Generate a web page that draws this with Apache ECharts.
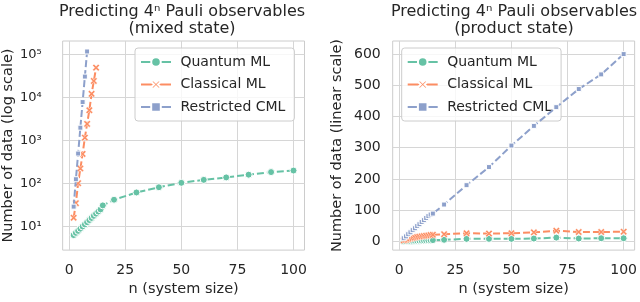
<!DOCTYPE html>
<html>
<head>
<meta charset="utf-8">
<script src="https://cdn.jsdelivr.net/npm/echarts@6/dist/echarts.min.js"></script>
<style>
html,body{margin:0;padding:0;background:#fff;}
#chart{width:640px;height:302px;}
</style>
</head>
<body>
<div id="chart"></div>
<script>
// ---------- data ----------
var seriesNames = ['Quantum ML', 'Classical ML', 'Restricted CML'];
var xTicks = [0, 25, 50, 75, 100];
var logTickValues = [10, 100, 1000, 10000, 100000];
var logTickLabels = ['10\u00b9', '10\u00b2', '10\u00b3', '10\u2074', '10\u2075'];
var linTicks = [0, 100, 200, 300, 400, 500, 600];

// Left panel (mixed state, log scale)
var mixQuantumN = [2,3,4,5,6,7,8,9,10,11,12,13,14,15,20,30,40,50,60,70,80,90,100];
var mixQuantumY = [6.3,7.1,7.9,8.9,10.0,11.2,12.6,14.1,15.8,17.7,19.9,22.3,25,31,42,62,82,104,122,139,161,185,201];
var mixClassicalN = [2,3,4,5,6,7,8,9,10,11,12];
var mixClassicalY = [16,35,102,224,490,1170,2450,5100,12300,24500,50000];
var mixRestrictedN = [2,3,4,5,6,7,8];
var mixRestrictedY = [29,126,500,2000,7900,31000,119000];

// Right panel (product state, linear scale)
var prodN = [2,3,4,5,6,7,8,9,10,11,12,13,14,15,20,30,40,50,60,70,80,90,100];
var prodQuantumY = [0.5,0.8,1,1.2,1.5,1.8,2,2.3,2.5,2.8,3,3.3,3.6,4,5,8,8,8,9,12,9,10,10];
var prodClassicalY = [3,5,7,9,11,12,14,15,16,17,18,19,20,21,23,26,25,26,29,34,30,30,31];
var prodRestrictedY = [10,16,23,29,36,42,49,55,62,68,75,81,86,89,118,180,238,307,370,430,488,535,600];

// ---------- styling ----------
var colors = ['#66c2a5', '#fc8d62', '#8da0cb'];
var textColor = '#262626';
var gridColor = '#d6d6d6';
var font = 'DejaVu Sans';
var xSymbol = 'path://M2,0L5,3L8,0L10,2L7,5L10,8L8,10L5,7L2,10L0,8L3,5L0,2Z';
var symbols = ['circle', xSymbol, 'rect'];
var symbolSizes = [7, 7, 5];

function pairs(xs, ys) {
  return xs.map(function (x, i) { return [x, ys[i]]; });
}

function makeSeries(idx, gridIdx, data) {
  return {
    name: seriesNames[idx],
    type: 'line',
    xAxisIndex: gridIdx,
    yAxisIndex: gridIdx,
    data: data,
    symbol: symbols[idx],
    symbolSize: symbolSizes[idx],
    showSymbol: true,
    animation: false,
    lineStyle: { color: colors[idx], width: 2, type: [7, 3] },
    itemStyle: { color: colors[idx], borderColor: '#ffffff', borderWidth: idx === 1 ? 0.5 : 1 },
    z: 2 + idx
  };
}

function labelFor(list) {
  return function (v) {
    for (var i = 0; i < list.length; i++) if (Math.abs(v - list[i]) < 1e-6) return String(list[i]);
    return '';
  };
}

function xAxis(gridIdx) {
  return {
    type: 'value', gridIndex: gridIdx,
    min: -2.9, max: 104.9,
    name: 'n (system size)', nameLocation: 'middle', nameGap: 31,
    nameTextStyle: { color: textColor, fontFamily: font, fontSize: 14.5 },
    axisLine: { show: false },
    axisTick: { show: false, customValues: xTicks },
    axisLabel: {
      color: textColor, fontFamily: font, fontSize: 14, margin: 13,
      customValues: xTicks,
      formatter: labelFor(xTicks)
    },
    splitLine: { show: true, lineStyle: { color: gridColor, width: 1 } }
  };
}

function legend(left) {
  return {
    data: seriesNames,
    orient: 'vertical',
    left: left, top: 48,
    itemWidth: 30, itemHeight: 12, itemGap: 8.5,
    padding: [7, 9, 7, 5],
    borderColor: '#cccccc', borderWidth: 1, borderRadius: 3,
    backgroundColor: 'rgba(255,255,255,0.8)',
    selectedMode: false,
    formatter: function (name) { return ' ' + name; },
    textStyle: { color: textColor, fontFamily: font, fontSize: 14 },
    lineStyle: { type: [1000, 1] }
  };
}

var option = {
  backgroundColor: '#ffffff',
  animation: false,
  textStyle: { fontFamily: font },
  title: [
    {
      text: 'Predicting 4\u207f Pauli observables\n(mixed state)',
      left: 182, top: 3, textAlign: 'center', padding: 0,
      textStyle: { color: textColor, fontFamily: font, fontSize: 16, fontWeight: 'normal', lineHeight: 17 }
    },
    {
      text: 'Predicting 4\u207f Pauli observables\n(product state)',
      left: 514, top: 3, textAlign: 'center', padding: 0,
      textStyle: { color: textColor, fontFamily: font, fontSize: 16, fontWeight: 'normal', lineHeight: 17 }
    }
  ],
  grid: [
    { left: 60.5, top: 41, width: 244, height: 213, show: true, borderColor: '#cccccc', borderWidth: 1, containLabel: false },
    { left: 392.7, top: 41, width: 243.5, height: 214, show: true, borderColor: '#cccccc', borderWidth: 1, containLabel: false }
  ],
  legend: [legend(135), legend(401.7)],
  xAxis: [xAxis(0), xAxis(1)],
  yAxis: [
    {
      type: 'log', logBase: 10, gridIndex: 0,
      min: 2.82, max: 208930,
      name: 'Number of data (log scale)', nameLocation: 'middle', nameGap: 45, nameRotate: 90,
      nameTextStyle: { color: textColor, fontFamily: font, fontSize: 14.5 },
      axisLine: { show: false },
      axisTick: { show: false, customValues: logTickValues },
      axisLabel: {
        color: textColor, fontFamily: font, fontSize: 13, margin: 21,
        customValues: logTickValues,
        formatter: function (v) {
          for (var i = 0; i < logTickValues.length; i++) {
            if (Math.abs(Math.log10(v) - Math.log10(logTickValues[i])) < 1e-6) return logTickLabels[i];
          }
          return '';
        }
      },
      splitLine: { show: true, lineStyle: { color: gridColor, width: 1 } },
      minorTick: { show: false }, minorSplitLine: { show: false }
    },
    {
      type: 'value', gridIndex: 1,
      min: -28, max: 642,
      name: 'Number of data (linear scale)', nameLocation: 'middle', nameGap: 48, nameRotate: 90,
      nameTextStyle: { color: textColor, fontFamily: font, fontSize: 14.5 },
      axisLine: { show: false },
      axisTick: { show: false, customValues: linTicks },
      axisLabel: {
        color: textColor, fontFamily: font, fontSize: 14, margin: 12,
        customValues: linTicks,
        formatter: labelFor(linTicks)
      },
      splitLine: { show: true, lineStyle: { color: gridColor, width: 1 } }
    }
  ],
  series: [
    makeSeries(0, 0, pairs(mixQuantumN, mixQuantumY)),
    makeSeries(1, 0, pairs(mixClassicalN, mixClassicalY)),
    makeSeries(2, 0, pairs(mixRestrictedN, mixRestrictedY)),
    makeSeries(0, 1, pairs(prodN, prodQuantumY)),
    makeSeries(1, 1, pairs(prodN, prodClassicalY)),
    makeSeries(2, 1, pairs(prodN, prodRestrictedY))
  ]
};

var chart = echarts.init(document.getElementById('chart'), null, { renderer: 'canvas' });
chart.setOption(option);
</script>
</body>
</html>
